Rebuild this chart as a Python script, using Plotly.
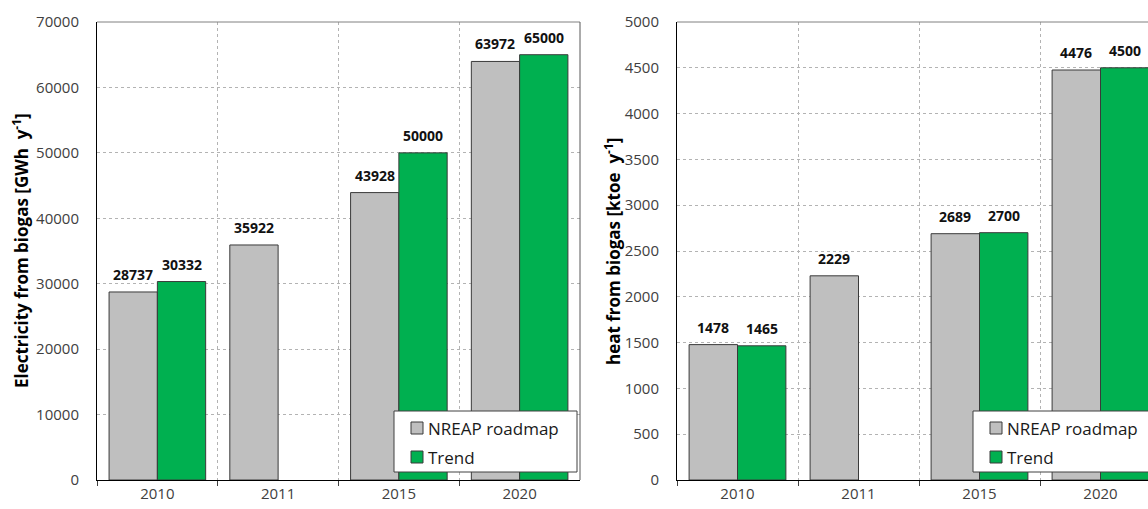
import plotly.graph_objects as go

# Data
years = ["2010", "2011", "2015", "2020"]
elec_nreap = [28737, 35922, 43928, 63972]
elec_trend = [30332, None, 50000, 65000]
heat_nreap = [1478, 2229, 2689, 4476]
heat_trend = [1465, None, 2700, 4500]
series_names = ["NREAP roadmap", "Trend"]

W, H = 1148, 509
M_TOP, M_BOT = 22, 29
PLOT_H = H - M_TOP - M_BOT

GRAY = "#BFBFBF"
GREEN = "#00B050"
EDGE = "#3a3a3a"
FONT = "Open Sans"

# Pixel helpers for paper coordinates
def px(x):
    return x / W

def py(y):
    return (H - M_BOT - y) / PLOT_H

fig = go.Figure()

panels = [
    ("x", "y", elec_nreap, elec_trend),
    ("x2", "y2", heat_nreap, heat_trend),
]
for xa, ya, nreap, trend in panels:
    for name, vals, col in ((series_names[0], nreap, GRAY), (series_names[1], trend, GREEN)):
        fig.add_trace(go.Bar(
            x=years, y=vals, name=name, xaxis=xa, yaxis=ya,
            marker=dict(color=col, line=dict(color=EDGE, width=1)),
            showlegend=False, hoverinfo="x+y",
        ))

# Value labels above the bars
ann = []
for xa, ya, nreap, trend in panels:
    for i, (a, b) in enumerate(zip(nreap, trend)):
        for off, v in ((-0.2, a), (0.2, b)):
            if v is None:
                continue
            ann.append(dict(
                x=i + off, y=v, xref=xa, yref=ya, text=f"<b>{v}</b>",
                showarrow=False, yanchor="bottom", yshift=6,
                font=dict(family=FONT, size=14, color="#111111"),
            ))

# Axis titles
ann.append(dict(
    x=px(20), y=0.5, xref="paper", yref="paper", textangle=-90,
    xanchor="center", yanchor="middle",
    text="<b>Electricity from biogas [GWh  y<sup>-1</sup>]</b>",
    showarrow=False, font=dict(family=FONT, size=17, color="#000000"),
))
ann.append(dict(
    x=px(612), y=0.5, xref="paper", yref="paper", textangle=-90,
    xanchor="center", yanchor="middle",
    text="<b>heat from biogas [ktoe  y<sup>-1</sup>]</b>",
    showarrow=False, font=dict(family=FONT, size=17, color="#000000"),
))

shapes = []
# Plot-area border lines (top and right of first panel, top of second)
shapes.append(dict(type="line", xref="x domain", yref="y domain", x0=0, x1=1, y0=1, y1=1,
                   line=dict(color="#808080", width=1)))
shapes.append(dict(type="line", xref="x domain", yref="y domain", x0=1, x1=1, y0=0, y1=1,
                   line=dict(color="#595959", width=1)))
shapes.append(dict(type="line", xref="x2 domain", yref="y2 domain", x0=0, x1=1.05, y0=1, y1=1,
                   line=dict(color="#808080", width=1)))

# Legends drawn as boxes with swatches
for bx in (394, 973):
    shapes.append(dict(type="rect", xref="paper", yref="paper",
                       x0=px(bx), x1=px(bx + 183), y0=py(472), y1=py(411),
                       fillcolor="white", line=dict(color="#404040", width=1), layer="above"))
    for cy, col, name in ((428, GRAY, series_names[0]), (457, GREEN, series_names[1])):
        shapes.append(dict(type="rect", xref="paper", yref="paper",
                           x0=px(bx + 17), x1=px(bx + 29), y0=py(cy + 6), y1=py(cy - 6),
                           fillcolor=col, line=dict(color=EDGE, width=1), layer="above"))
        ann.append(dict(x=px(bx + 32), y=py(cy), xref="paper", yref="paper",
                        text=name, showarrow=False, xanchor="left", yanchor="middle",
                        font=dict(family=FONT, size=17, color="#1a1a1a")))

axis_common_x = dict(
    type="category", tickson="boundaries", ticks="outside", ticklen=5,
    tickcolor="#404040", showline=True, linecolor="#000000", linewidth=1,
    showgrid=True, gridcolor="#b3b3b3", griddash="dot", gridwidth=1,
    tickfont=dict(family=FONT, size=15, color="#404040"), fixedrange=True,
)
axis_common_y = dict(
    showline=True, linecolor="#000000", linewidth=1, ticks="",
    showgrid=True, gridcolor="#b3b3b3", griddash="dot", gridwidth=1,
    tickfont=dict(family=FONT, size=15, color="#404040"), zeroline=False,
    ticklabelstandoff=14, tickformat="d", fixedrange=True,
)

fig.update_layout(
    width=W, height=H,
    margin=dict(l=0, r=0, t=M_TOP, b=M_BOT),
    paper_bgcolor="white", plot_bgcolor="white",
    barmode="group", bargap=0.2, bargroupgap=0,
    xaxis=dict(domain=[px(97), px(580)], anchor="y", range=[-0.5, 3.5], **axis_common_x),
    yaxis=dict(domain=[0, 1], anchor="x", range=[0, 70000], dtick=10000, **axis_common_y),
    xaxis2=dict(domain=[px(677), 1], anchor="y2", range=[-0.5, -0.5 + (W - 677) / 121], **axis_common_x),
    yaxis2=dict(domain=[0, 1], anchor="x2", range=[0, 5000], dtick=500, **axis_common_y),
    annotations=ann, shapes=shapes, showlegend=False,
)

fig.write_html("out.html")
